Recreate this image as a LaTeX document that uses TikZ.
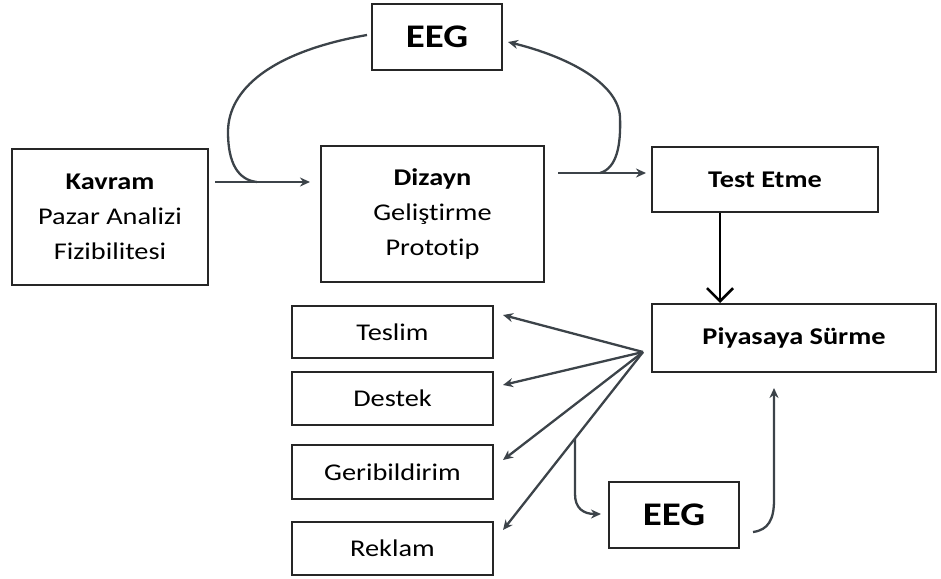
\documentclass[tikz,border=0pt]{standalone}
\usepackage{fontspec}
\setmainfont{Carlito}[FakeStretch=1.18, RawFeature={-liga}]
\usetikzlibrary{arrows.meta}
\definecolor{ln}{HTML}{3C4349}
\begin{document}
\begin{tikzpicture}[x=1pt,y=-1pt,
 box/.style={draw=black!85, line width=1.8pt, inner sep=0pt, align=center, font=\fontsize{24}{35}\selectfont},
 big/.style={font=\fontsize{33}{40}\selectfont\bfseries},
 conn/.style={draw=ln, line width=2.3pt, -{Stealth[length=10pt,width=9pt]}},
 plainln/.style={draw=ln, line width=2.3pt},
]
\useasboundingbox (0,0) rectangle (941,578);
% boxes
\node[box, minimum width=196, minimum height=136] (kav) at (110,217) {\textbf{Kavram}\\Pazar Analizi\\Fizibilitesi};
\node[box, minimum width=223, minimum height=136] (diz) at (432.5,214) {\textbf{Dizayn}\\Geliştirme\\Prototip};
\node[box, big, minimum width=130, minimum height=66] (eegA) at (437,37) {EEG};
\node[box, minimum width=226, minimum height=65] (test) at (765,179.5) {\textbf{Test Etme}};
\node[box, minimum width=284, minimum height=68] (piy) at (794,338) {\textbf{Piyasaya Sürme}};
\node[box, minimum width=201, minimum height=52] (tes) at (392.5,332) {Teslim};
\node[box, minimum width=201, minimum height=53] (des) at (392.5,398.5) {Destek};
\node[box, minimum width=201, minimum height=54] (ger) at (392.5,472) {Geribildirim};
\node[box, minimum width=201, minimum height=53] (rek) at (392.5,548.5) {Reklam};
\node[box, big, minimum width=130, minimum height=66] (eegB) at (674,515) {EEG};
% coordinates
\coordinate (k1) at (215,182);
\coordinate (k2) at (310,182);
\coordinate (j1) at (257,182);
\coordinate (a1) at (367,35);
\coordinate (d1) at (558,173);
\coordinate (d2) at (646,173);
\coordinate (j2) at (600,173);
\coordinate (a2) at (508,42);
\coordinate (ta) at (720,213);
\coordinate (tb) at (720,303);
\coordinate (hub) at (643,352);
\coordinate (h1) at (503,315);
\coordinate (h2) at (503,385);
\coordinate (h3) at (503,460);
\coordinate (h4) at (503,530);
\coordinate (br) at (575,438.5);
\coordinate (b2) at (601,514);
\coordinate (c1) at (753,532);
\coordinate (c2) at (774,388);
% connectors
\draw[conn] (k1) -- (k2);
\draw[plainln] (a1) .. controls (270,52) and (228,90) .. (228,132) .. controls (228,163) and (238,180) .. (j1);
\draw[conn] (d1) -- (d2);
\draw[conn] (j2) .. controls (617,168) and (621,145) .. (620,117) .. controls (618,82) and (565,56) .. (a2);
\draw[line width=2.8pt, black, -{Straight Barb[length=13pt,width=26pt,line width=2.6pt]}] (ta) -- (tb);
\draw[conn] (hub) -- (h1);
\draw[conn] (hub) -- (h2);
\draw[conn] (hub) -- (h3);
\draw[conn] (hub) -- (h4);
\draw[conn] (br) -- (575,494) .. controls (575,508) and (583,514) .. (b2);
\draw[conn] (c1) .. controls (768,530) and (774,520) .. (774,500) -- (c2);
\end{tikzpicture}
\end{document}
